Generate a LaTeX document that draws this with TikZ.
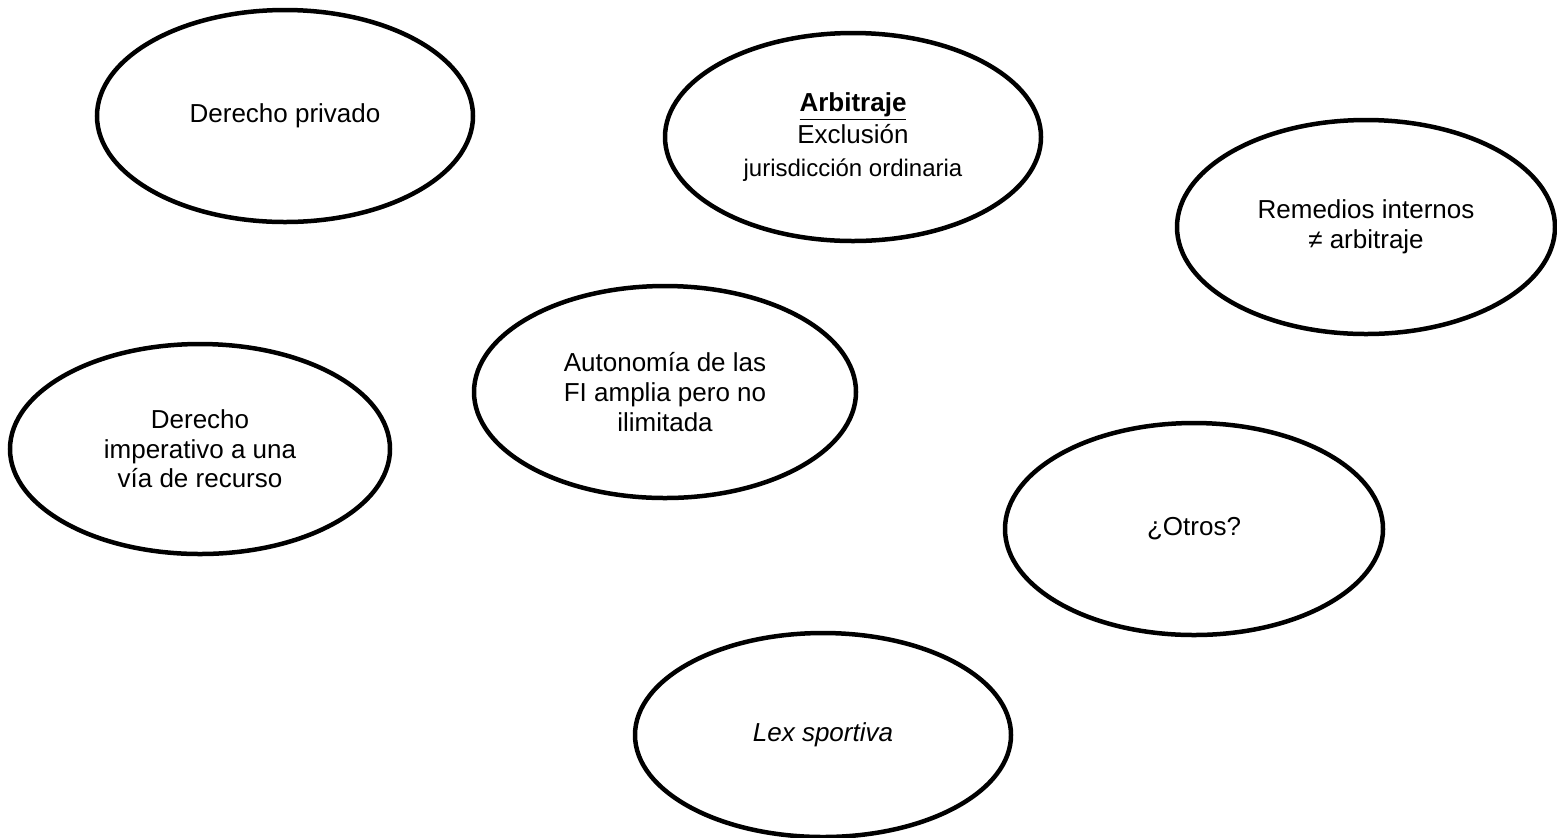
\documentclass[tikz,border=0pt]{standalone}
\usepackage{fontspec}
\setmainfont{Liberation Sans}
\usetikzlibrary{shapes.geometric}

\begin{document}
\begin{tikzpicture}[
        x=0.5pt, y=-0.5pt,
        bubble/.style={
            ellipse,
            draw=black,
            line width=2.25pt,
            minimum width=189pt,
            minimum height=105pt,
            inner sep=0pt,
            align=center,
            font=\fontsize{13}{14.8}\selectfont
        }
    ]
    \useasboundingbox (0,0) rectangle (1557,837);

    % Nodes
    \node (privado) [bubble, minimum width=188pt, minimum height=106pt] at (285,116) {Derecho privado};
    \node (arbitraje) [bubble, minimum width=188pt, minimum height=104pt] at (853,137)
        {\textbf{\underline{Arbitraje}}\\[1.6pt] Exclusión\\[1.6pt] {\fontsize{12}{14}\selectfont jurisdicción ordinaria}};
    \node (remedios) [bubble, minimum height=107pt] at (1366,227) {Remedios internos\\ ≠ arbitraje};
    \node (autonomia) [bubble, minimum width=191pt, minimum height=106pt] at (665,392) {Autonomía de las\\ FI amplia pero no\\ ilimitada};
    \node (imperativo) [bubble, minimum width=190pt] at (200,449) {Derecho\\ imperativo a una\\ vía de recurso};
    \node (otros) [bubble, minimum height=106pt] at (1194,529) {¿Otros?};
    \node (lex) [bubble, minimum width=188pt, minimum height=102pt] at (823,735) {\textit{Lex sportiva}};

\end{tikzpicture}
\end{document}
